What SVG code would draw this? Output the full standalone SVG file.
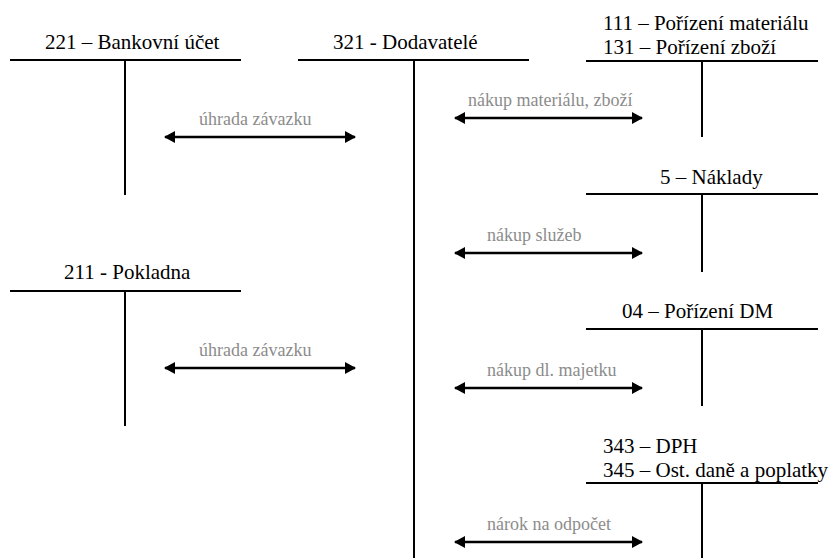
<svg xmlns="http://www.w3.org/2000/svg" width="832" height="558" viewBox="0 0 832 558">
<style>
  .acct line { stroke: #000; stroke-width: 2; }
  .title { font-family: 'Liberation Serif', 'Times New Roman', serif; font-size: 21px; fill: #000; }
  .lbl { font-family: 'Liberation Serif', 'Times New Roman', serif; font-size: 18px; fill: #8c8c8c; }
  .conn line { stroke: #000; stroke-width: 2.5; marker-start: url(#ah); marker-end: url(#ah); }
</style>
<defs>
  <marker id="ah" markerUnits="userSpaceOnUse" markerWidth="14" markerHeight="14" refX="10" refY="7" orient="auto-start-reverse" viewBox="0 0 14 14">
    <path d="M0,1 L11,7 L0,13 Z" fill="#000"/>
  </marker>
</defs>
<rect width="832" height="558" fill="#fff"/>

<g id="acct221" class="acct">
  <text class="title" x="45" y="49">221 – Bankovní účet</text>
  <line x1="10" y1="60" x2="241" y2="60"/>
  <line x1="125" y1="60" x2="125" y2="195"/>
</g>
<g id="acct321" class="acct">
  <text class="title" x="333" y="49">321 - Dodavatelé</text>
  <line x1="298" y1="60" x2="529" y2="60"/>
  <line x1="414" y1="60" x2="414" y2="558"/>
</g>
<g id="acct111" class="acct">
  <text class="title" x="603" y="30">111 – Pořízení materiálu</text>
  <text class="title" x="603" y="54">131 – Pořízení zboží</text>
  <line x1="586" y1="61" x2="818" y2="61"/>
  <line x1="702" y1="61" x2="702" y2="137"/>
</g>
<g id="acct5" class="acct">
  <text class="title" x="660" y="184">5 – Náklady</text>
  <line x1="586" y1="194" x2="818" y2="194"/>
  <line x1="702" y1="194" x2="702" y2="272"/>
</g>
<g id="acct04" class="acct">
  <text class="title" x="622" y="318">04 – Pořízení DM</text>
  <line x1="586" y1="329" x2="818" y2="329"/>
  <line x1="702" y1="329" x2="702" y2="406"/>
</g>
<g id="acct343" class="acct">
  <text class="title" x="603" y="453">343 – DPH</text>
  <text class="title" x="603" y="477">345 – Ost. daně a poplatky</text>
  <line x1="586" y1="483" x2="818" y2="483"/>
  <line x1="702" y1="483" x2="702" y2="558"/>
</g>
<g id="acct211" class="acct">
  <text class="title" x="64" y="279">211 - Pokladna</text>
  <line x1="10" y1="291" x2="241" y2="291"/>
  <line x1="125" y1="291" x2="125" y2="426"/>
</g>

<g id="connectors" class="conn">
  <line x1="165" y1="137" x2="355" y2="137"/>
  <line x1="455" y1="118" x2="642" y2="118"/>
  <line x1="455" y1="253" x2="642" y2="253"/>
  <line x1="165" y1="368" x2="355" y2="368"/>
  <line x1="455" y1="388" x2="642" y2="388"/>
  <line x1="455" y1="542" x2="642" y2="542"/>
</g>
<g id="labels">
  <text class="lbl" x="199" y="125">úhrada závazku</text>
  <text class="lbl" x="468" y="106">nákup materiálu, zboží</text>
  <text class="lbl" x="487" y="241">nákup služeb</text>
  <text class="lbl" x="199" y="356">úhrada závazku</text>
  <text class="lbl" x="487" y="376">nákup dl. majetku</text>
  <text class="lbl" x="487" y="530">nárok na odpočet</text>
</g>
</svg>
